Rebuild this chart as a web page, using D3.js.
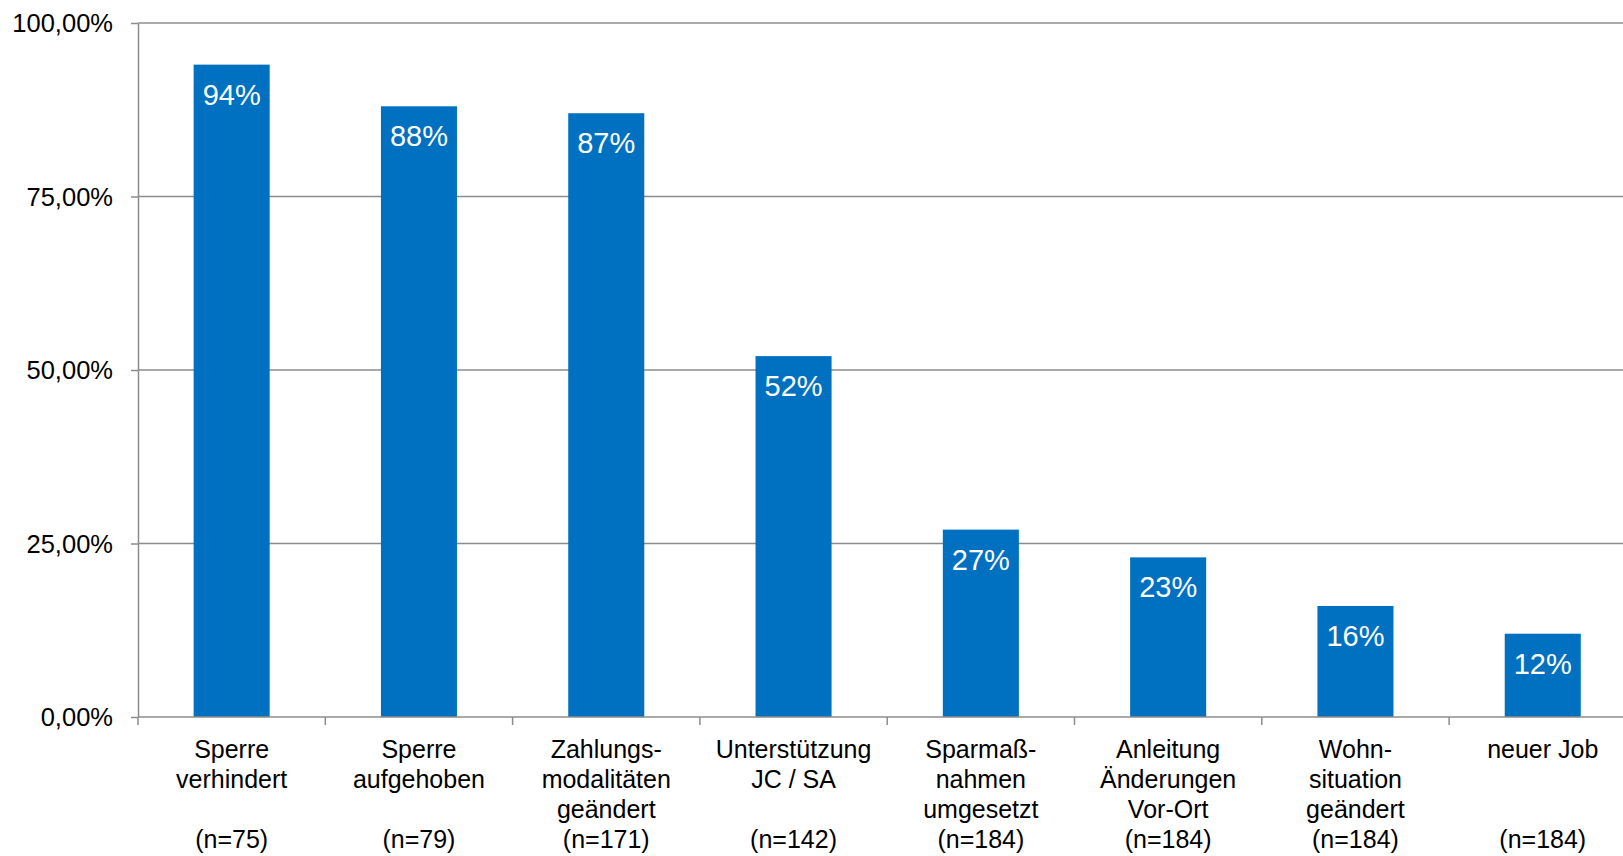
<!DOCTYPE html>
<meta charset="utf-8">
<html>
<head>
  <style>
    body { margin: 0; background: #fff; }
    svg { display: block; font-family: "Liberation Sans", Arial, sans-serif; }
    .grid line { stroke: #8c8c8c; stroke-width: 1.5; }
    .axis path, .axis line { stroke: #8c8c8c; stroke-width: 1.5; }
  </style>
</head>
<body>
<svg width="1623" height="856"></svg>
<script src="https://d3js.org/d3.v7.min.js"></script>
<script>
  const categories = [
    ["Sperre", "verhindert", ""],
    ["Sperre", "aufgehoben", ""],
    ["Zahlungs-", "modalitäten", "geändert"],
    ["Unterstützung", "JC / SA", ""],
    ["Sparmaß-", "nahmen", "umgesetzt"],
    ["Anleitung", "Änderungen", "Vor-Ort"],
    ["Wohn-", "situation", "geändert"],
    ["neuer Job", "", ""]
  ];
  const sampleSizes = ["(n=75)", "(n=79)", "(n=171)", "(n=142)", "(n=184)", "(n=184)", "(n=184)", "(n=184)"];
  const values = [0.94, 0.88, 0.87, 0.52, 0.27, 0.23, 0.16, 0.12];
  const yTicks = [0, 0.25, 0.5, 0.75, 1];

  const svg = d3.select("svg");
  const plotLeft = 138, plotTop = 23, plotBottom = 717, step = 187.3;
  const idx = d3.range(categories.length);
  const plotRight = plotLeft + step * idx.length;

  const x = d3.scaleBand()
    .domain(idx)
    .range([plotLeft, plotRight]);

  const y = d3.scaleLinear()
    .domain([0, 1])
    .range([plotBottom, plotTop]);

  // gridlines
  svg.append("g").attr("class", "grid")
    .selectAll("line")
    .data(yTicks.filter(d => d > 0))
    .enter().append("line")
    .attr("x1", plotLeft).attr("x2", plotRight)
    .attr("y1", d => y(d)).attr("y2", d => y(d));

  // y axis
  const yAxis = svg.append("g").attr("class", "axis")
    .attr("transform", `translate(${plotLeft},0)`)
    .call(d3.axisLeft(y).tickValues(yTicks).tickSize(7).tickSizeOuter(0)
      .tickFormat(d => d3.format(".2f")(d * 100).replace(".", ",") + "%"));
  yAxis.selectAll("text")
    .attr("x", -25)
    .attr("dy", "0.35em")
    .style("font-size", "25.5px")
    .style("font-family", "'Liberation Sans', Arial, sans-serif")
    .style("fill", "#000");

  // bars
  const barW = x.bandwidth() * 0.406;
  svg.append("g")
    .selectAll("rect")
    .data(values)
    .enter().append("rect")
    .attr("x", (d, i) => x(i) + (x.bandwidth() - barW) / 2)
    .attr("y", d => y(d))
    .attr("width", barW)
    .attr("height", d => y(0) - y(d))
    .attr("fill", "#0070c0");

  // value labels
  svg.append("g")
    .selectAll("text")
    .data(values)
    .enter().append("text")
    .attr("x", (d, i) => x(i) + x.bandwidth() / 2)
    .attr("y", d => y(d) + 40)
    .attr("text-anchor", "middle")
    .style("font-size", "29px")
    .style("fill", "#fff")
    .text(d => Math.round(d * 100) + "%");

  // x axis with ticks at band boundaries
  const xg = svg.append("g").attr("class", "axis");
  xg.append("line")
    .attr("x1", plotLeft).attr("x2", plotRight)
    .attr("y1", plotBottom).attr("y2", plotBottom);
  xg.selectAll(".tk")
    .data(d3.range(idx.length + 1))
    .enter().append("line")
    .attr("class", "tk")
    .attr("x1", i => plotLeft + step * i).attr("x2", i => plotLeft + step * i)
    .attr("y1", plotBottom).attr("y2", plotBottom + 8);

  // category labels
  const labels = svg.append("g")
    .selectAll("text")
    .data(idx)
    .enter().append("text")
    .attr("text-anchor", "middle")
    .style("font-size", "25px")
    .style("fill", "#000");
  labels.selectAll("tspan")
    .data(i => categories[i].concat([sampleSizes[i]]).map((t, k) => ({ t, k, i })))
    .enter().append("tspan")
    .attr("x", d => x(d.i) + x.bandwidth() / 2)
    .attr("y", d => 758 + d.k * 30)
    .text(d => d.t);
</script>
</body>
</html>
